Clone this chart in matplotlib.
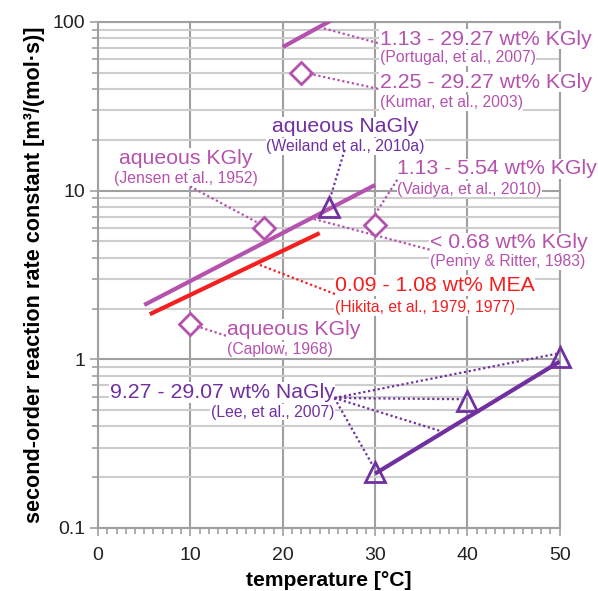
import numpy as np
import matplotlib
matplotlib.use("Agg")
import matplotlib.pyplot as plt
from matplotlib.ticker import FixedLocator, NullFormatter, MultipleLocator

plt.rcParams['font.family'] = ['Liberation Sans', 'DejaVu Sans']

KGLY = '#B452AE'
NAGLY = '#7030A0'
MEA = '#F42020'
GRID_MAJ = '#A0A0A0'
GRID_MIN = '#CDCDCD'

## lines (temperature [C], k [m3/(mol s)])
portugal_T = [20, 25.5]
portugal_k = [71, 104]
vaidya_T = [5, 30]
vaidya_k = [2.1, 10.8]
hikita_T = [5.6, 24]
hikita_k = [1.85, 5.6]
lee_T = [30, 50]
lee_k = [0.21, 0.97]

## single points
kgly_pts_T = [22, 18, 30, 10]      # Kumar, Jensen, Vaidya, Caplow
kgly_pts_k = [50, 6.0, 6.3, 1.63]
nagly_pts_T = [25, 30, 40, 50]     # Weiland, Lee x3
nagly_pts_k = [8.0, 0.215, 0.57, 1.03]

## annotations: title, reference, colour, align, text x, title y, ref y,
## leader start, leader targets
labels = [
    ('1.13 - 29.27 wt% KGly', '(Portugal, et al., 2007)', KGLY, 'left',
     30.5, 79, 61.3, (30.3, 75), [(24.35, 92)]),
    ('2.25 - 29.27 wt% KGly', '(Kumar, et al., 2003)', KGLY, 'left',
     30.5, 44, 33.2, (30.3, 40.2), [(22.9, 49.3)]),
    ('aqueous NaGly', '(Weiland et al., 2010a)', NAGLY, 'center',
     26.8, 23.9, 18.3, (26.7, 17.4), [(25.1, 8.9)]),
    ('aqueous KGly', '(Jensen et al., 1952)', KGLY, 'center',
     9.47, 15.5, 11.8, (9.96, 10.6), [(17.2, 6.5)]),
    ('1.13 - 5.54 wt% KGly', '(Vaidya, et al., 2010)', KGLY, 'left',
     32.4, 13.5, 10.2, (32.4, 11.6), [(29.9, 7.1)]),
    ('< 0.68 wt% KGly', '(Penny & Ritter, 1983)', KGLY, 'left',
     35.9, 4.9, 3.78, (35.9, 4.47), [(22.9, 6.9)]),
    ('0.09 - 1.08 wt% MEA', '(Hikita, et al., 1979, 1977)', MEA, 'left',
     25.65, 2.74, 2.03, (25.65, 2.44), [(17.0, 3.72)]),
    ('aqueous KGly', '(Caplow, 1968)', KGLY, 'left',
     14.0, 1.50, 1.14, (13.85, 1.38), [(10.7, 1.57)]),
    ('9.27 - 29.07 wt% NaGly', '(Lee, et al., 2007)', NAGLY, 'right',
     25.6, 0.635, 0.487, (25.6, 0.59),
     [(29.65, 0.24), (37.0, 0.377), (39.4, 0.58), (49.7, 1.08)]),
]

fig = plt.figure(figsize=(5.98, 5.91), dpi=100)
ax = fig.add_axes([0.164, 0.1066, 0.772, 0.8562])
ax.set_yscale('log')
ax.set_xlim(0, 50)
ax.set_ylim(0.1, 100)

# grid
ax.xaxis.set_major_locator(MultipleLocator(10))
ax.xaxis.set_minor_locator(MultipleLocator(1))
ax.yaxis.set_major_locator(FixedLocator([0.1, 1, 10, 100]))
minors = [m * 10.0 ** d for d in (-1, 0, 1) for m in range(2, 10)]
ax.yaxis.set_minor_locator(FixedLocator(minors))
ax.yaxis.set_minor_formatter(NullFormatter())
ax.set_yticklabels(['0.1', '1', '10', '100'])
ax.grid(which='major', axis='both', color=GRID_MAJ, lw=1.5)
ax.grid(which='minor', axis='y', color=GRID_MIN, lw=1.5)
ax.set_axisbelow(True)
for s in ax.spines.values():
    s.set_color(GRID_MAJ)
    s.set_linewidth(1.5)
ax.tick_params(which='both', color=GRID_MAJ, width=1.2, labelsize=14, labelcolor='#222222')
ax.tick_params(which='major', length=6)
ax.tick_params(which='minor', length=4)
ax.tick_params(axis='x', pad=8)

ax.set_xlabel('temperature [°C]', fontsize=15.2, fontweight='bold', labelpad=5)
ax.set_ylabel('second-order reaction rate constant [m³/(mol·s)]', fontsize=15.6,
              fontweight='bold', labelpad=5)

# data lines
ax.plot(portugal_T, portugal_k, color=KGLY, lw=3, solid_capstyle='butt', zorder=4)
ax.plot(vaidya_T, vaidya_k, color=KGLY, lw=3, solid_capstyle='butt', zorder=4)
ax.plot(hikita_T, hikita_k, color=MEA, lw=3, solid_capstyle='butt', zorder=4)
ax.plot(lee_T, lee_k, color=NAGLY, lw=3, solid_capstyle='butt', zorder=4)

ax.plot(kgly_pts_T, kgly_pts_k, ls='none', marker='D', ms=11, mfc='white',
        mec=KGLY, mew=2, zorder=5, clip_on=False)
ax.plot(nagly_pts_T, nagly_pts_k, ls='none', marker='^', ms=14, mfc='none',
        mec=NAGLY, mew=2, zorder=8, clip_on=False)

# labels with dotted leaders
for title, ref, col, ha, tx, ty, ry, start, targets in labels:
    ax.text(tx, ty, title, color=col, fontsize=15.3, ha=ha, va='center', zorder=7,
            bbox=dict(fc='white', ec='none', pad=0.5))
    ax.text(tx, ry, ref, color=col, fontsize=11.3, ha=ha, va='center', zorder=7,
            bbox=dict(fc='white', ec='none', pad=0.5))
    for px, py in targets:
        ax.plot([start[0], px], [start[1], py], color=col, lw=1.6, ls=(0, (1, 1.2)),
                zorder=7.5, clip_on=False)

fig.savefig('out.png', dpi=100)
